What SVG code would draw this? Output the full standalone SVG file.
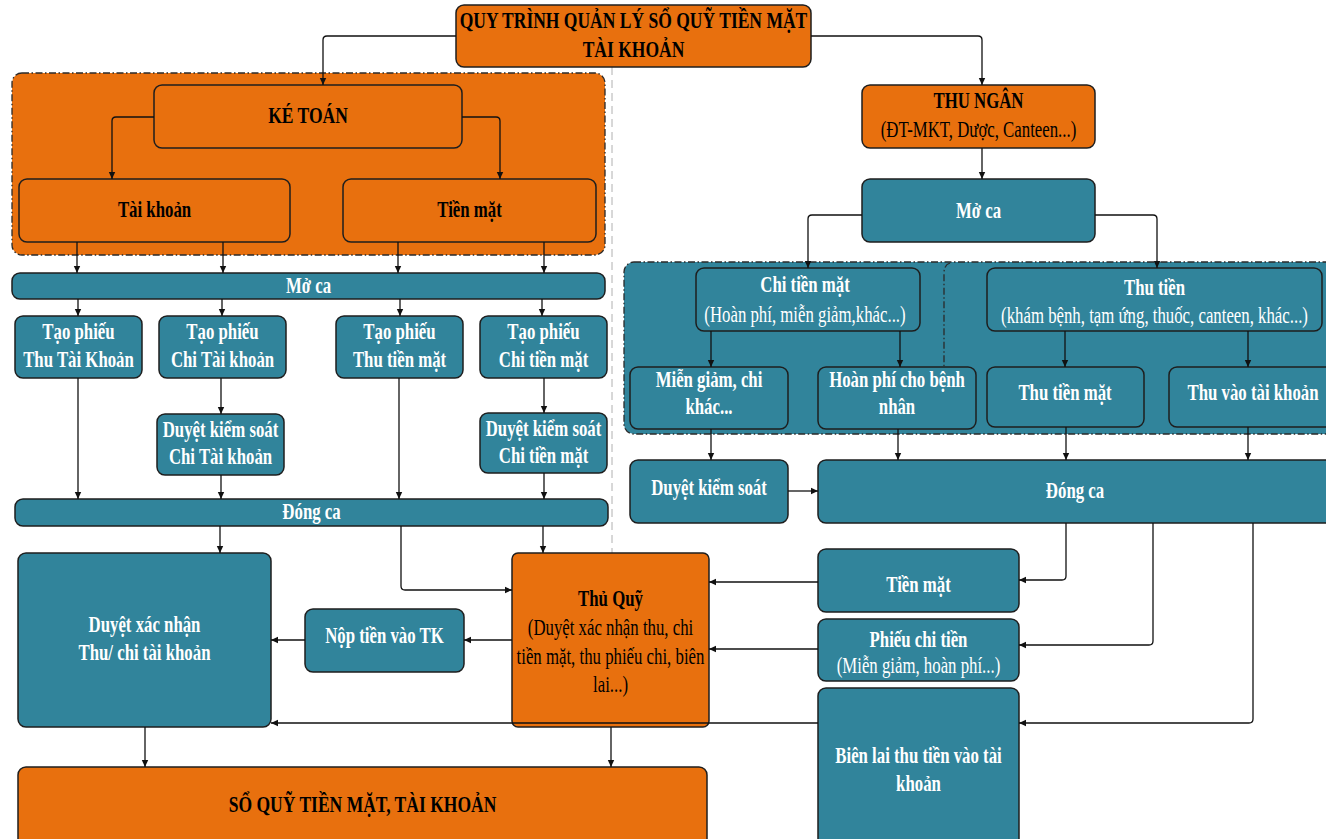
<svg xmlns="http://www.w3.org/2000/svg" width="1326" height="839" viewBox="0 0 1326 839">
<defs>
<marker id="ah" markerWidth="8" markerHeight="8" refX="7" refY="4" orient="auto" markerUnits="userSpaceOnUse"><path d="M0,0.8 L7,4 L0,7.2 z" fill="#111"/></marker>
</defs>
<style>
.o{fill:#E8700E;stroke:#1e1e1e;stroke-width:1.5}
.t{fill:#31849B;stroke:#1e1e1e;stroke-width:1.5}
.go{fill:#E8700E;stroke:#2a2a2a;stroke-width:1.3;stroke-dasharray:7 2.5 1.5 2.5}
.gt{fill:#31849B;stroke:#2a2a2a;stroke-width:1.3;stroke-dasharray:7 2.5 1.5 2.5}
.dv{fill:none;stroke:#2a2a2a;stroke-width:1.3;stroke-dasharray:7 2.5 1.5 2.5}
.sep{fill:none;stroke:#b0b0b0;stroke-width:1;stroke-dasharray:8 5}
text{font-family:"Liberation Serif","Times New Roman",serif;font-size:23px;text-anchor:middle}
.bw{fill:#fff;font-weight:bold}
.rw{fill:#fff}
.bk{fill:#000;font-weight:bold}
.rk{fill:#000}
.lg{font-size:24px}
#connectors path{fill:none;stroke:#111;stroke-width:1.3;marker-end:url(#ah)}
</style>
<rect width="1326" height="839" fill="#fff"/>
<path class="sep" d="M612,67 V553"/>

<g id="group-ketoan"><rect class="go" x="12" y="73" width="593" height="182" rx="10"/></g>
<g id="group-thungan"><rect class="gt" x="624" y="262" width="716" height="172" rx="10"/><path class="dv" d="M950,263 Q944,265 944,273 V366"/></g>

<g id="n-title"><rect class="o" x="456" y="5" width="355" height="62" rx="8"/>
<text class="bk lg" transform="translate(633.5 0) scale(.73 1)"><tspan x="0" y="28">QUY TRÌNH QUẢN LÝ SỔ QUỸ TIỀN MẶT</tspan><tspan x="0" y="57">TÀI KHOẢN</tspan></text></g>

<g id="n-ketoan"><rect class="o" x="154" y="85" width="308" height="63" rx="8"/>
<text class="bk lg" transform="translate(308 0) scale(.73 1)" x="0" y="123">KÉ TOÁN</text></g>
<g id="n-taikhoan"><rect class="o" x="19" y="179" width="271" height="63" rx="8"/>
<text class="bk" transform="translate(154.5 0) scale(.73 1)" x="0" y="217">Tài khoản</text></g>
<g id="n-tienmat"><rect class="o" x="343" y="179" width="253" height="63" rx="8"/>
<text class="bk" transform="translate(469.5 0) scale(.73 1)" x="0" y="217">Tiền mặt</text></g>

<g id="n-moca-l"><rect class="t" x="12" y="273" width="593" height="26" rx="8"/>
<text class="bw" transform="translate(308.5 0) scale(.73 1)" x="0" y="293">Mở ca</text></g>

<g id="n-tp-thutk"><rect class="t" x="15" y="316" width="127" height="62" rx="8"/>
<text class="bw" transform="translate(78.5 0) scale(.73 1)"><tspan x="0" y="339">Tạo phiếu</tspan><tspan x="0" y="367">Thu Tài Khoản</tspan></text></g>
<g id="n-tp-chitk"><rect class="t" x="159" y="316" width="127" height="62" rx="8"/>
<text class="bw" transform="translate(222.5 0) scale(.73 1)"><tspan x="0" y="339">Tạo phiếu</tspan><tspan x="0" y="367">Chi Tài khoản</tspan></text></g>
<g id="n-tp-thutm"><rect class="t" x="336" y="316" width="127" height="62" rx="8"/>
<text class="bw" transform="translate(399.5 0) scale(.73 1)"><tspan x="0" y="339">Tạo phiếu</tspan><tspan x="0" y="367">Thu tiền mặt</tspan></text></g>
<g id="n-tp-chitm"><rect class="t" x="480" y="316" width="127" height="62" rx="8"/>
<text class="bw" transform="translate(543.5 0) scale(.73 1)"><tspan x="0" y="339">Tạo phiếu</tspan><tspan x="0" y="367">Chi tiền mặt</tspan></text></g>

<g id="n-dks-chitk"><rect class="t" x="157" y="414" width="127" height="61" rx="8"/>
<text class="bw" transform="translate(220.5 0) scale(.73 1)"><tspan x="0" y="437">Duyệt kiểm soát</tspan><tspan x="0" y="464">Chi Tài khoản</tspan></text></g>
<g id="n-dks-chitm"><rect class="t" x="480" y="413" width="127" height="60" rx="8"/>
<text class="bw" transform="translate(543.5 0) scale(.73 1)"><tspan x="0" y="436">Duyệt kiểm soát</tspan><tspan x="0" y="463">Chi tiền mặt</tspan></text></g>

<g id="n-dongca-l"><rect class="t" x="15" y="499" width="593" height="27" rx="8"/>
<text class="bw" transform="translate(311.5 0) scale(.73 1)" x="0" y="519">Đóng ca</text></g>

<g id="n-dxn"><rect class="t" x="18" y="553" width="253" height="174" rx="8"/>
<text class="bw" transform="translate(144.5 0) scale(.73 1)"><tspan x="0" y="632">Duyệt xác nhận</tspan><tspan x="0" y="660">Thu/ chi tài khoản</tspan></text></g>
<g id="n-noptien"><rect class="t" x="305" y="609" width="159" height="63" rx="8"/>
<text class="bw" transform="translate(384.5 0) scale(.73 1)" x="0" y="643">Nộp tiền vào TK</text></g>
<g id="n-thuquy"><rect class="o" x="512" y="553" width="197" height="174" rx="6"/>
<text transform="translate(610.5 0) scale(.73 1)"><tspan class="bk" x="0" y="606">Thủ Quỹ</tspan><tspan class="rk" x="0" y="635">(Duyệt xác nhận thu, chi</tspan><tspan class="rk" x="0" y="664">tiền mặt, thu phiếu chi, biên</tspan><tspan class="rk" x="0" y="692">lai...)</tspan></text></g>
<g id="n-soquy"><rect class="o" x="18" y="767" width="689" height="80" rx="8"/>
<text class="bk lg" transform="translate(362.5 0) scale(.73 1)" x="0" y="812">SỔ QUỸ TIỀN MẶT, TÀI KHOẢN</text></g>

<g id="n-thungan"><rect class="o" x="862" y="85" width="233" height="63" rx="8"/>
<text transform="translate(978.5 0) scale(.73 1)"><tspan class="bk" x="0" y="108">THU NGÂN</tspan><tspan class="rk" x="0" y="137">(ĐT-MKT, Dược, Canteen...)</tspan></text></g>
<g id="n-moca-r"><rect class="t" x="862" y="179" width="233" height="63" rx="8"/>
<text class="bw" transform="translate(978.5 0) scale(.73 1)" x="0" y="218">Mở ca</text></g>
<g id="n-chitm"><rect class="t" x="696" y="268" width="224" height="63" rx="8"/>
<text transform="translate(805 0) scale(.73 1)"><tspan class="bw" x="0" y="292">Chi tiền mặt</tspan><tspan class="rw" x="0" y="322">(Hoàn phí, miễn giảm,khác...)</tspan></text></g>
<g id="n-thutien"><rect class="t" x="987" y="268" width="335" height="63" rx="8"/>
<text transform="translate(1154.5 0) scale(.73 1)"><tspan class="bw" x="0" y="295">Thu tiền</tspan><tspan class="rw" x="0" y="323">(khám bệnh, tạm ứng, thuốc, canteen, khác...)</tspan></text></g>
<g id="n-miengiam"><rect class="t" x="630" y="367" width="158" height="62" rx="8"/>
<text class="bw" transform="translate(709 0) scale(.73 1)"><tspan x="0" y="387">Miễn giảm, chi</tspan><tspan x="0" y="414">khác...</tspan></text></g>
<g id="n-hoanphi"><rect class="t" x="818" y="367" width="158" height="62" rx="8"/>
<text class="bw" transform="translate(897 0) scale(.73 1)"><tspan x="0" y="387">Hoàn phí cho bệnh</tspan><tspan x="0" y="414">nhân</tspan></text></g>
<g id="n-thutm"><rect class="t" x="987" y="367" width="157" height="60" rx="8"/>
<text class="bw" transform="translate(1065 0) scale(.73 1)" x="0" y="400">Thu tiền mặt</text></g>
<g id="n-thutk"><rect class="t" x="1169" y="367" width="170" height="60" rx="8"/>
<text class="bw" transform="translate(1253 0) scale(.73 1)" x="0" y="400">Thu vào tài khoản</text></g>
<g id="n-dks-r"><rect class="t" x="630" y="460" width="158" height="63" rx="8"/>
<text class="bw" transform="translate(709 0) scale(.73 1)" x="0" y="495">Duyệt kiểm soát</text></g>
<g id="n-dongca-r"><rect class="t" x="818" y="460" width="522" height="63" rx="8"/>
<text class="bw" transform="translate(1075 0) scale(.73 1)" x="0" y="498">Đóng ca</text></g>
<g id="n-tienmat-r"><rect class="t" x="818" y="549" width="201" height="63" rx="8"/>
<text class="bw" transform="translate(918.5 0) scale(.73 1)" x="0" y="592">Tiền mặt</text></g>
<g id="n-phieuchi"><rect class="t" x="818" y="619" width="201" height="62" rx="8"/>
<text transform="translate(918.5 0) scale(.73 1)"><tspan class="bw" x="0" y="647">Phiếu chi tiền</tspan><tspan class="rw" x="0" y="673">(Miễn giảm, hoàn phí...)</tspan></text></g>
<g id="n-bienlai"><rect class="t" x="818" y="688" width="201" height="160" rx="8"/>
<text class="bw" transform="translate(918.5 0) scale(.73 1)"><tspan x="0" y="763">Biên lai thu tiền vào tài</tspan><tspan x="0" y="791">khoản</tspan></text></g>

<g id="connectors">
<path d="M456,36 H327 Q323,36 323,40 V85"/>
<path d="M811,36 H978 Q982,36 982,40 V85"/>
<path d="M154,117 H116 Q112,117 112,121 V179"/>
<path d="M462,117 H496 Q500,117 500,121 V179"/>
<path d="M77,242 V273"/>
<path d="M223,242 V273"/>
<path d="M398,242 V273"/>
<path d="M544,242 V273"/>
<path d="M78,299 V316"/>
<path d="M222,299 V316"/>
<path d="M400,299 V316"/>
<path d="M542,299 V316"/>
<path d="M78,378 V499"/>
<path d="M221,378 V414"/>
<path d="M221,475 V499"/>
<path d="M399,378 V499"/>
<path d="M544,378 V413"/>
<path d="M544,473 V499"/>
<path d="M220,526 V553"/>
<path d="M401,526 V586 Q401,590 405,590 H512"/>
<path d="M543,526 V553"/>
<path d="M512,640 H464"/>
<path d="M305,640 H271"/>
<path d="M145,727 V767"/>
<path d="M611,727 V767"/>
<path d="M982,148 V179"/>
<path d="M862,215 H812 Q808,215 808,219 V268"/>
<path d="M1095,215 H1153 Q1157,215 1157,219 V268"/>
<path d="M711,331 V367"/>
<path d="M900,331 V367"/>
<path d="M1065,331 V367"/>
<path d="M1248,331 V367"/>
<path d="M711,429 V460"/>
<path d="M898,429 V460"/>
<path d="M1066,427 V460"/>
<path d="M1248,427 V460"/>
<path d="M788,491 H818"/>
<path d="M1066,523 V576 Q1066,580 1062,580 H1019"/>
<path d="M1153,523 V641 Q1153,645 1149,645 H1019"/>
<path d="M1253,523 V719 Q1253,723 1249,723 H1019"/>
<path d="M818,582 H709"/>
<path d="M818,649 H709"/>
<path d="M818,723 H271"/>
</g>
</svg>
